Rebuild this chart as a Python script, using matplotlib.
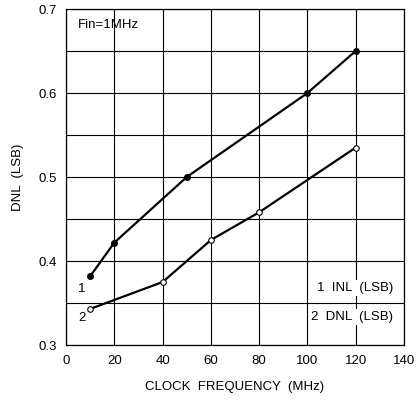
import matplotlib
matplotlib.use("Agg")
import matplotlib.pyplot as plt

inl_x = [10, 20, 50, 100, 120]
inl_y = [0.382, 0.422, 0.500, 0.600, 0.650]
dnl_x = [10, 40, 60, 80, 120]
dnl_y = [0.343, 0.375, 0.425, 0.458, 0.535]
x_ticks = [0, 20, 40, 60, 80, 100, 120, 140]
y_ticks = [0.3, 0.4, 0.5, 0.6, 0.7]
y_grid = [0.35, 0.45, 0.55, 0.65]

plt.rcParams['font.family'] = ['Liberation Sans', 'DejaVu Sans']
fs = 9.5

fig = plt.figure(figsize=(4.16, 4.0), dpi=100)
ax = fig.add_axes([0.159, 0.1375, 0.812, 0.84])
ax.set_xlim(0, 140)
ax.set_ylim(0.3, 0.7)
ax.set_xticks(x_ticks)
ax.set_yticks(y_ticks)
ax.set_yticks(y_grid, minor=True)
ax.set_yticklabels([f"{v:.1f}" for v in y_ticks])
ax.tick_params(which='both', length=0, labelsize=fs, pad=7)
ax.grid(True, which='both', color='black', linewidth=0.8)
ax.set_axisbelow(True)
for s in ax.spines.values():
    s.set_linewidth(0.9)

ax.plot(inl_x, inl_y, color='black', lw=1.6, marker='o', ms=4,
        mfc='black', mec='black', zorder=3)
ax.plot(dnl_x, dnl_y, color='black', lw=1.6, marker='o', ms=4,
        mfc='white', mec='black', mew=0.8, zorder=3)

ax.text(inl_x[0] - 2, inl_y[0] - 0.008, "1", ha='right', va='top', fontsize=fs)
ax.text(dnl_x[0] - 2, dnl_y[0] - 0.004, "2", ha='right', va='top', fontsize=fs)

ax.text(5, 0.688, "Fin=1MHz", ha='left', va='top', fontsize=fs)

bb = dict(facecolor='white', edgecolor='none', pad=1.5)
ax.text(135.5, 0.368, "1  INL  (LSB)", ha='right', va='center', fontsize=fs, bbox=bb, zorder=4)
ax.text(135.5, 0.333, "2  DNL  (LSB)", ha='right', va='center', fontsize=fs, bbox=bb, zorder=4)

ax.set_xlabel("CLOCK  FREQUENCY  (MHz)", fontsize=fs, labelpad=10)
ax.set_ylabel("DNL  (LSB)", fontsize=fs, labelpad=10)

fig.savefig("out.png", dpi=100)
